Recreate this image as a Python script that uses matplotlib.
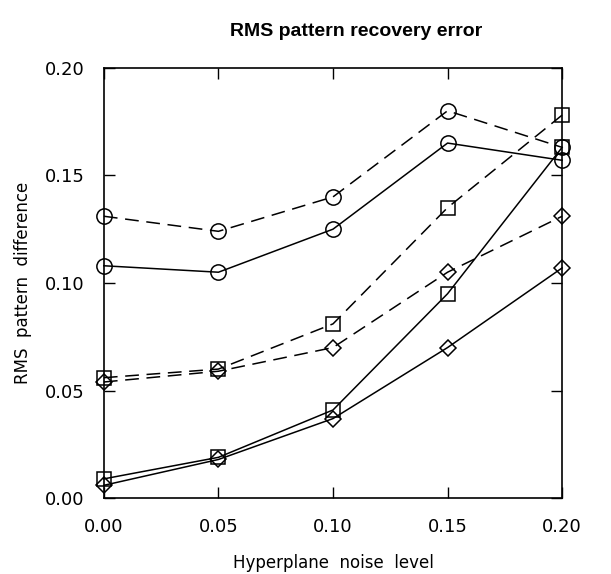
import matplotlib
matplotlib.use('Agg')
import matplotlib.pyplot as plt

plt.rcParams['font.family'] = ['DejaVu Sans']

# noise levels
noise = [0.00, 0.05, 0.10, 0.15, 0.20]

# circles
circ_dash = [0.131, 0.124, 0.140, 0.180, 0.163]
circ_solid = [0.108, 0.105, 0.125, 0.165, 0.157]
# squares
sq_dash = [0.056, 0.060, 0.081, 0.135, 0.178]
sq_solid = [0.009, 0.019, 0.041, 0.095, 0.163]
# diamonds
dia_dash = [0.054, 0.059, 0.070, 0.105, 0.131]
dia_solid = [0.006, 0.018, 0.037, 0.070, 0.107]

xticks = [0.00, 0.05, 0.10, 0.15, 0.20]
yticks = [0.00, 0.05, 0.10, 0.15, 0.20]

fig = plt.figure(figsize=(6.11, 5.74), dpi=100)
ax = fig.add_axes([0.170, 0.132, 0.750, 0.750])

dash = (0, (9, 5))
series = [
    (circ_dash, 'o', dash, 11),
    (circ_solid, 'o', '-', 11),
    (sq_dash, 's', dash, 10),
    (sq_solid, 's', '-', 10),
    (dia_dash, 'D', dash, 8.5),
    (dia_solid, 'D', '-', 8.5),
]
for ys, mk, ls, ms in series:
    ax.plot(noise, ys, color='black', linestyle=ls, linewidth=1.1,
            marker=mk, markersize=ms, markerfacecolor='none',
            markeredgecolor='black', markeredgewidth=1.1, clip_on=False)

ax.set_xlim(0, 0.2)
ax.set_ylim(0, 0.2)
ax.set_xticks(xticks)
ax.set_yticks(yticks)
ax.set_xticklabels(['%.2f' % t for t in xticks])
ax.set_yticklabels(['%.2f' % t for t in yticks])
ax.tick_params(direction='in', top=True, right=True, length=8, width=1,
               labelsize=13, pad=14)
for s in ax.spines.values():
    s.set_linewidth(1.2)

ax.set_xlabel('Hyperplane  noise  level', fontsize=12, labelpad=13)
ax.set_ylabel('RMS  pattern  difference', fontsize=12, labelpad=9)
fig.text(0.583, 0.945, 'RMS pattern recovery error', ha='center', va='center',
         fontsize=14, fontweight='bold', family=['Liberation Sans'])

fig.savefig('out.png', dpi=100)
